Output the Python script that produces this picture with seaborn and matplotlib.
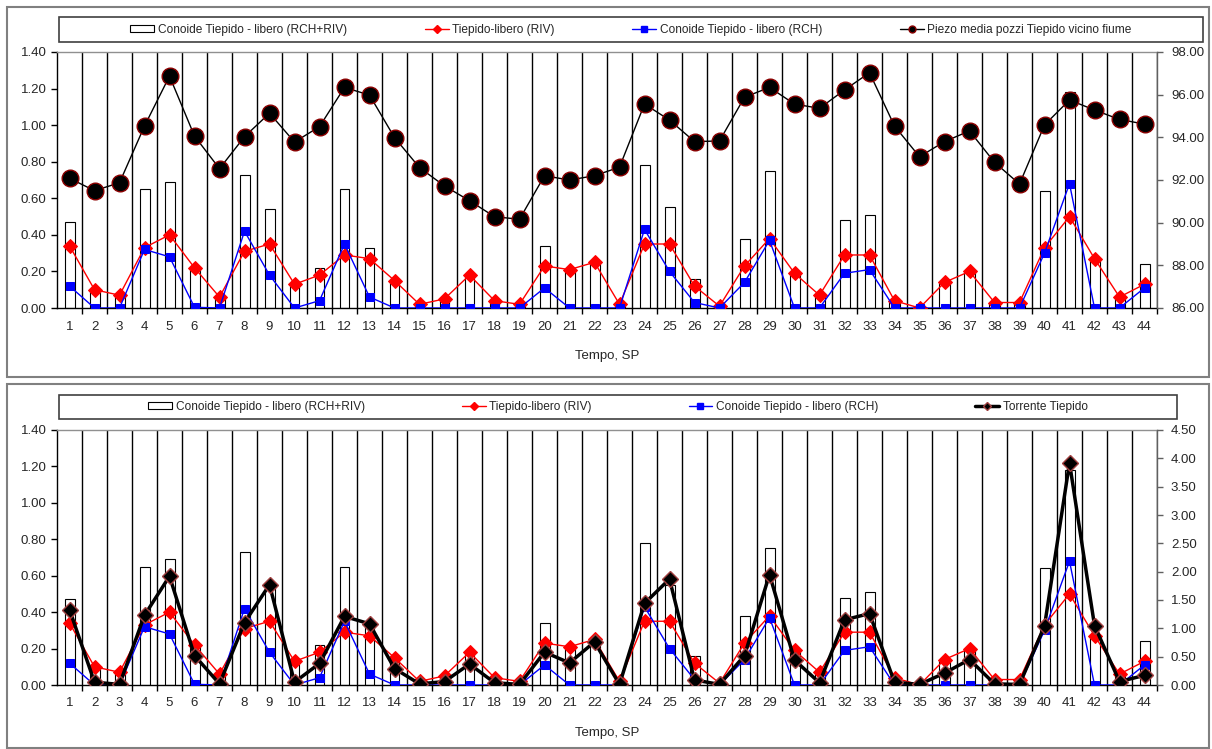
import matplotlib
matplotlib.use("Agg")
import matplotlib.pyplot as plt
import seaborn as sns
from matplotlib.patches import Rectangle, Patch
from matplotlib.lines import Line2D
from matplotlib.ticker import FormatStrFormatter, FixedLocator

# ── Data ─────────────────────────────────────────────────────────
sp_labels = [str(i) for i in range(1, 45)]

rch_riv = [0.47, 0.10, 0.07, 0.65, 0.69, 0.22, 0.06, 0.73, 0.54, 0.13, 0.22,
           0.65, 0.33, 0.15, 0.02, 0.05, 0.18, 0.04, 0.02, 0.34, 0.21, 0.25,
           0.02, 0.78, 0.55, 0.16, 0.01, 0.38, 0.75, 0.19, 0.07, 0.48, 0.51,
           0.04, 0.00, 0.14, 0.20, 0.03, 0.03, 0.64, 1.18, 0.27, 0.06, 0.24]

riv = [0.34, 0.10, 0.07, 0.33, 0.40, 0.22, 0.06, 0.31, 0.35, 0.13, 0.18,
       0.29, 0.27, 0.15, 0.02, 0.05, 0.18, 0.04, 0.02, 0.23, 0.21, 0.25,
       0.02, 0.35, 0.35, 0.12, 0.01, 0.23, 0.38, 0.19, 0.07, 0.29, 0.29,
       0.04, 0.00, 0.14, 0.20, 0.03, 0.03, 0.33, 0.50, 0.27, 0.06, 0.13]

rch = [0.12, 0.00, 0.00, 0.32, 0.28, 0.004, 0.00, 0.42, 0.18, 0.00, 0.04,
       0.35, 0.06, 0.00, 0.00, 0.00, 0.00, 0.00, 0.00, 0.11, 0.00, 0.00,
       0.00, 0.43, 0.20, 0.03, 0.00, 0.14, 0.37, 0.00, 0.00, 0.19, 0.21,
       0.00, 0.00, 0.00, 0.00, 0.00, 0.00, 0.30, 0.68, 0.00, 0.00, 0.11]

piezo = [92.08, 91.50, 91.87, 94.53, 96.87, 94.06, 92.53, 94.03, 95.13, 93.78,
         94.50, 96.34, 95.98, 93.99, 92.58, 91.72, 91.03, 90.28, 90.16, 92.20,
         92.00, 92.20, 92.60, 95.56, 94.81, 93.80, 93.83, 95.88, 96.34, 95.56,
         95.36, 96.22, 97.03, 94.53, 93.09, 93.80, 94.30, 92.83, 91.81, 94.58,
         95.75, 95.28, 94.84, 94.62]

torrente = [1.33, 0.05, 0.01, 1.23, 1.92, 0.52, 0.02, 1.10, 1.77, 0.05, 0.38,
            1.21, 1.08, 0.29, 0.02, 0.06, 0.37, 0.04, 0.01, 0.58, 0.39, 0.76,
            0.01, 1.44, 1.87, 0.09, 0.01, 0.52, 1.95, 0.44, 0.04, 1.15, 1.26,
            0.05, 0.01, 0.21, 0.45, 0.02, 0.01, 1.04, 3.92, 1.05, 0.06, 0.17]

lbl_bar = "Conoide Tiepido - libero (RCH+RIV)"
lbl_riv = "Tiepido-libero (RIV)"
lbl_rch = "Conoide Tiepido - libero (RCH)"
lbl_piezo = "Piezo media pozzi Tiepido vicino fiume"
lbl_torr = "Torrente Tiepido"

# ── Style ────────────────────────────────────────────────────────
sns.set_theme(style="white")
plt.rcParams["font.family"] = ["Liberation Sans", "DejaVu Sans"]
plt.rcParams["axes.linewidth"] = 1.0

W, H = 1212, 749
fig = plt.figure(figsize=(W / 100, H / 100), dpi=100)


def fbox(x0, y0, x1, y1):
    """pixel box (top-left origin) -> figure fraction [l, b, w, h]"""
    return [x0 / W, 1 - y1 / H, (x1 - x0) / W, (y1 - y0) / H]


def panel(rect, legend_rect, xlab_y, sec_vals, sec_lim, sec_ticks, sec_kind,
          colspace):
    ax = fig.add_axes(fbox(*rect))
    pos = list(range(len(sp_labels)))

    sns.barplot(x=sp_labels, y=rch_riv, color="white", saturation=1,
                edgecolor="black", linewidth=0.8, width=0.4, errorbar=None,
                ax=ax, zorder=2)
    sns.lineplot(x=pos, y=riv, color="red", lw=1, marker="D", markersize=7,
                 markeredgecolor="red", ax=ax, zorder=3)
    sns.lineplot(x=pos, y=rch, color="blue", lw=1, marker="s", markersize=5.5,
                 markeredgecolor="blue", ax=ax, zorder=4)

    ax.set_xlim(-0.5, len(pos) - 0.5)
    ax.set_ylim(0, 1.4)
    ax.set_yticks([0, 0.2, 0.4, 0.6, 0.8, 1.0, 1.2, 1.4])
    ax.yaxis.set_major_formatter(FormatStrFormatter("%.2f"))
    ax.set_xticks(pos)
    ax.set_xticklabels(sp_labels)
    ax.xaxis.set_minor_locator(FixedLocator([p + 0.5 for p in pos]))
    ax.grid(which="minor", axis="x", color="black", lw=1, zorder=1)
    ax.grid(which="major", visible=False)
    ax.tick_params(axis="x", which="major", length=0, pad=9, labelsize=9.5)
    ax.tick_params(axis="x", which="minor", length=4, width=1,
                   direction="out", color="black", bottom=True)
    ax.tick_params(axis="y", length=4, width=1, direction="out", left=True,
                   labelsize=9.5, color="black")
    ax.set_xlabel("Tempo, SP", fontsize=9.5)
    ax.xaxis.set_label_coords(0.5, (rect[3] - xlab_y) / (rect[3] - rect[1]))
    ax.set_ylabel("")
    for s in ("left", "bottom"):
        ax.spines[s].set_color("black")
    ax.spines["top"].set_color("#909090")
    ax.spines["right"].set_visible(False)

    ax2 = ax.twinx()
    if sec_kind == "piezo":
        sns.lineplot(x=pos, y=sec_vals, color="black", lw=1, marker="o",
                     markersize=12, markerfacecolor="black",
                     markeredgecolor="#8b0000", markeredgewidth=1, ax=ax2)
    else:
        sns.lineplot(x=pos, y=sec_vals, color="black", lw=2.5, marker="D",
                     markersize=8, markerfacecolor="black",
                     markeredgecolor="#a04040", markeredgewidth=1, ax=ax2)
    ax2.set_ylim(*sec_lim)
    ax2.set_yticks(sec_ticks)
    ax2.yaxis.set_major_formatter(FormatStrFormatter("%.2f"))
    ax2.tick_params(axis="y", length=4, width=1, direction="out", right=True,
                    labelsize=9.5, color="#606060", pad=6)
    ax2.set_ylabel("")
    for s in ("left", "bottom", "top"):
        ax2.spines[s].set_visible(False)
    ax2.spines["right"].set_color("#606060")

    # legend box
    lx0, ly0, lx1, ly1 = legend_rect
    fig.patches.append(Rectangle((lx0 / W, 1 - ly1 / H), (lx1 - lx0) / W,
                                 (ly1 - ly0) / H, transform=fig.transFigure,
                                 fill=False, edgecolor="#404040", lw=1.2))
    handles = [
        Patch(facecolor="white", edgecolor="black", lw=0.8),
        Line2D([0], [0], color="red", lw=1, marker="D", markersize=4,
               markeredgecolor="red"),
        Line2D([0], [0], color="blue", lw=1, marker="s", markersize=4,
               markeredgecolor="blue"),
    ]
    if sec_kind == "piezo":
        handles.append(Line2D([0], [0], color="black", lw=1, marker="o",
                              markersize=5, markerfacecolor="black",
                              markeredgecolor="#8b0000"))
        last = lbl_piezo
    else:
        handles.append(Line2D([0], [0], color="black", lw=2.5, marker="D",
                              markersize=4, markerfacecolor="black",
                              markeredgecolor="#a04040"))
        last = lbl_torr
    fig.legend(handles, [lbl_bar, lbl_riv, lbl_rch, last], ncol=4,
               loc="center",
               bbox_to_anchor=((lx0 + lx1) / 2 / W, 1 - (ly0 + ly1) / 2 / H),
               frameon=False, fontsize=8.6, columnspacing=colspace,
               handlelength=2.0, handletextpad=0.3, handleheight=0.5)
    return ax, ax2


panel((57, 52, 1157, 308), (59, 17, 1203, 42), 350, piezo, (86, 98),
      [86, 88, 90, 92, 94, 96, 98], "piezo", 6.5)
panel((57, 430, 1157, 685), (59, 395, 1177, 419), 727, torrente, (0, 4.5),
      [0, 0.5, 1, 1.5, 2, 2.5, 3, 3.5, 4, 4.5], "torr", 8.1)

# outer chart frames
for (x0, y0, x1, y1) in [(7, 7, 1209, 377), (7, 384, 1209, 748)]:
    fig.patches.append(Rectangle((x0 / W, 1 - y1 / H), (x1 - x0) / W,
                                 (y1 - y0) / H, transform=fig.transFigure,
                                 fill=False, edgecolor="#808080", lw=1.5))

fig.savefig("out.png", dpi=100)
